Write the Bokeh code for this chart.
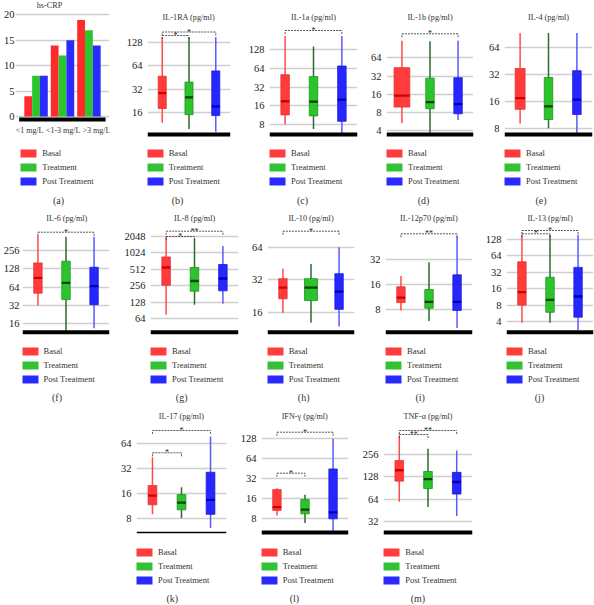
from bokeh.plotting import figure
from bokeh.models import (Range1d, FixedTicker, Label, Legend, LegendItem,
                          PrintfTickFormatter, Span, ColumnDataSource, Spacer)
from bokeh.layouts import row, column
from bokeh.transform import dodge
from bokeh.embed import file_html
from bokeh.resources import INLINE

# ---------------- data ----------------
groups = ["Basal", "Treatment", "Post Treatment"]

crp_levels = ["<1 mg/L", "<1-3 mg/L", ">3 mg/L"]
crp_basal = [4, 14, 19]
crp_treatment = [8, 12, 17]
crp_post = [8, 15, 14]
crp_ticks = [0, 5, 10, 15, 20]

# box statistics, order: Basal, Treatment, Post Treatment
il1ra_low = [11.8, 9.8, 9.0]
il1ra_q1 = [18, 15, 14.6]
il1ra_med = [28.4, 25, 19.2]
il1ra_q3 = [47, 39.5, 55]
il1ra_high = [150, 150, 150]
il1ra_ticks = [16, 32, 64, 128]
il1ra_sig = [("Basal", "Treatment", "*"), ("Basal", "Post Treatment", "*")]

il1a_low = [8, 6.8, 5.7]
il1a_q1 = [11.4, 11, 9]
il1a_med = [18.9, 18.7, 20]
il1a_q3 = [50.5, 47, 69.5]
il1a_high = [210, 143, 210]
il1a_ticks = [8, 16, 32, 64, 128]
il1a_sig = [("Basal", "Post Treatment", "*")]

il1b_low = [5.3, 3.5, 6.0]
il1b_q1 = [9.8, 9.2, 7.6]
il1b_med = [15.2, 11.8, 11]
il1b_q3 = [44, 29.5, 30]
il1b_high = [123, 120, 123]
il1b_ticks = [4, 8, 16, 32, 64]
il1b_sig = [("Basal", "Post Treatment", "*")]

il4_low = [9, 8, 6.8]
il4_q1 = [13, 10, 11.4]
il4_med = [17.3, 14, 16.7]
il4_q3 = [37, 29.4, 35]
il4_high = [92, 92, 92]
il4_ticks = [8, 16, 32, 64]
il4_sig = []

il6_low = [32, 11.6, 13.5]
il6_q1 = [51, 40, 33]
il6_med = [91, 75, 66.5]
il6_q3 = [160, 171, 136]
il6_high = [451, 430, 430]
il6_ticks = [16, 32, 64, 128, 256]
il6_sig = [("Basal", "Post Treatment", "*")]

il8_low = [76, 116, 121]
il8_q1 = [263, 205, 208]
il8_med = [556, 315, 350]
il8_q3 = [866, 556, 630]
il8_high = [2048, 1860, 1370]
il8_ticks = [64, 128, 256, 512, 1024, 2048]
il8_sig = [("Basal", "Treatment", "*"), ("Basal", "Post Treatment", "**")]

il10_low = [15.7, 12.8, 11.8]
il10_q1 = [21.3, 20.5, 17]
il10_med = [27, 27, 24.8]
il10_q3 = [32.7, 32.7, 36.4]
il10_high = [40.5, 44.7, 64]
il10_ticks = [16, 32, 64]
il10_sig = [("Basal", "Post Treatment", "*")]

il12_low = [7.8, 5.8, 4.8]
il12_q1 = [9.7, 8.3, 7.8]
il12_med = [11.1, 9.9, 9.9]
il12_q3 = [15, 13.9, 20.9]
il12_high = [20.2, 29.7, 61]
il12_ticks = [8, 16, 32]
il12_sig = [("Basal", "Post Treatment", "**")]

il13_low = [3.8, 3.8, 2.8]
il13_q1 = [8, 5.9, 4.8]
il13_med = [13.9, 10, 11.5]
il13_q3 = [50, 26, 39.4]
il13_high = [156, 156, 156]
il13_ticks = [4, 8, 16, 32, 64, 128]
il13_sig = [("Basal", "Treatment", "*"), ("Basal", "Post Treatment", "*")]

il17_low = [8.9, 8, 6.1]
il17_q1 = [11.6, 10.1, 8.9]
il17_med = [15, 12.3, 13.3]
il17_q3 = [19.8, 15.4, 28.6]
il17_high = [43.5, 18.9, 77]
il17_ticks = [8, 16, 32, 64]
il17_sig = [("Basal", "Post Treatment", "*"), ("Basal", "Treatment", "*")]

ifng_low = [9, 6.9, 4.9]
ifng_q1 = [10.7, 9.5, 8]
ifng_med = [12, 11, 10]
ifng_q3 = [22, 15.6, 45]
ifng_high = [23, 18.4, 128]
ifng_ticks = [8, 16, 32, 64, 128]
ifng_sig = [("Basal", "Post Treatment", "*"), ("Basal", "Treatment", "*")]

tnfa_low = [59, 50, 38]
tnfa_q1 = [112, 89, 75]
tnfa_med = [157, 119, 109]
tnfa_q3 = [212, 151, 147]
tnfa_high = [462, 305, 290]
tnfa_ticks = [32, 64, 128, 256]
tnfa_sig = [("Basal", "Post Treatment", "**"), ("Basal", "Treatment", "**")]

# ---------------- styling / layout ----------------
S = 1.0
FONT = "Liberation Serif"
TXT = "#333333"


def px(v):
    return v * S


ROW_H = [208, 198, 199]
ROW_BASE = [134, 123.7, 126]
ROW_TITLE = [17.3, 9.7, 10]
ROW_LEGEND = [153, 142.7, 146.3]
ROW_CAPTION = [200, 188.7, 192.3]

FILL = ["#ff3b3b", "#2bc42b", "#2626ff"]
EDGE = ["#e83232", "#1f8f1f", "#1c1cd6"]
WHISK = ["#ff4a4a", "#2f6b2f", "#5a5aff"]
MED = ["#d00000", "#0d420d", "#0000b0"]
LEG = ["#ff3b3b", "#33c233", "#2a2aff"]
BAR = ["#ff2b2b", "#2cc52c", "#2b2bff"]

LAYOUT = {
    "a": dict(row=0, x0=0, x1=118, fl=13, fr=109, lab=3, tx=47, ty=4.8, sw=18.3,
              xr=(0.222, 3.778), base=119, base_x=(0.36, 3.63), so=1),
    "b": dict(row=0, x0=118, x1=237, fl=146.7, fr=230, lab=124, ref=(128, 42), ppd=23.33,
              brk=[35, 31.5]),
    "c": dict(row=0, x0=237, x1=360, fl=269, fr=357, lab=247, ref=(128, 49), ppd=18.75,
              brk=[30]),
    "d": dict(row=0, x0=360, x1=480, fl=386, fr=473, lab=373, ref=(64, 57.3), ppd=18.2,
              brk=[33.3], bw=[0.56, 0.3, 0.3]),
    "e": dict(row=0, x0=480, x1=594, fl=504, fr=592, lab=489, ref=(64, 46.7), ppd=27,
              brk=[], bw=[0.35, 0.3, 0.3]),
    "f": dict(row=1, x0=0, x1=118, fl=19.5, fr=109, lab=0, ref=(256, 42), ppd=18.33,
              brk=[23.7], so=3),
    "g": dict(row=1, x0=118, x1=243, fl=150, fr=238.3, lab=124, ref=(2048, 28), ppd=16.47,
              brk=[28, 22.7]),
    "h": dict(row=1, x0=243, x1=362, fl=266.7, fr=354.3, lab=252, ref=(64, 38.7), ppd=32.5,
              brk=[22.7], bw=[0.3, 0.46, 0.3]),
    "i": dict(row=1, x0=362, x1=482, fl=385, fr=471.7, lab=367.7, ref=(32, 51), ppd=25,
              brk=[25.3]),
    "j": dict(row=1, x0=482, x1=594, fl=506, fr=593, lab=485, ref=(128, 31), ppd=16.4,
              brk=[25.3, 22]),
    "k": dict(row=2, x0=114, x1=235, fl=136, fr=225.7, lab=118, ref=(64, 36.7), ppd=25,
              brk=[24, 46.3], blw=1.6),
    "l": dict(row=2, x0=235, x1=358, fl=260.7, fr=347.7, lab=240, ref=(128, 32.3), ppd=20,
              brk=[25.7, 66.7]),
    "m": dict(row=2, x0=358, x1=480, fl=383.3, fr=471.7, lab=363, ref=(256, 48), ppd=22.33,
              brk=[24, 28]),
}


def make_fig(L, y_range, log):
    r = L["row"]
    left = round(px(L["x0"]))
    right = round(px(L["x1"]))
    bl = round(px(L["fl"] - L["x0"]))
    br = round(px(L["x1"] - L["fr"]))
    kw = dict(y_axis_type="log") if log else {}
    p = figure(width=right - left, height=round(px(ROW_H[r])),
               x_range=Range1d(*L.get("xr", (0.45, 3.55))), y_range=y_range,
               x_axis_location=None, y_axis_location="left", title=None,
               toolbar_location=None, output_backend="svg",
               min_border_left=bl, min_border_right=br, min_border_top=0,
               min_border_bottom=0, outline_line_color=None,
               background_fill_color="white", border_fill_color="white", **kw)
    p.xgrid.visible = False
    p.ygrid.grid_line_color = "#cfcfcf"
    p.ygrid.grid_line_width = px(1.3)
    return p, left + bl


def style_axis(p, L, ticks):
    ax = p.yaxis[0]
    ax.ticker = FixedTicker(ticks=ticks)
    ax.formatter = PrintfTickFormatter(format="%d")
    ax.axis_line_color = None
    ax.major_tick_line_color = None
    ax.minor_tick_line_color = None
    ax.major_tick_out = 0
    ax.major_tick_in = 0
    ax.minor_tick_out = 0
    ax.minor_tick_in = 0
    ax.major_label_text_font = FONT
    ax.major_label_text_font_size = f"{px(10.5):.1f}px"
    ax.major_label_text_color = "#222222"
    ax.major_label_standoff = round(px(L.get("so", 5)))


def decorate(p, L, fl_s, title, letter, dummy_y):
    r = L["row"]
    Hs = round(px(ROW_H[r]))
    tx = L.get("tx", (L["fl"] + L["fr"]) / 2)
    ty = L.get("ty", ROW_TITLE[r])
    p.add_layout(Label(x=px(tx) - fl_s, y=Hs - px(ty), x_units="screen", y_units="screen",
                       text=title, text_align="center", text_baseline="middle",
                       text_font=FONT, text_font_size=f"{px(8.2):.1f}px", text_color=TXT))
    cx = (L["lab"] + L["fr"]) / 2
    p.add_layout(Label(x=px(cx) - fl_s, y=Hs - px(ROW_CAPTION[r]), x_units="screen",
                       y_units="screen", text=f"({letter})", text_align="center",
                       text_baseline="middle", text_font=FONT,
                       text_font_size=f"{px(10):.1f}px", text_color=TXT))
    # legend swatches: zero-height bars (nothing visible in the plot area)
    rs = [p.vbar(x=[2], bottom=[dummy_y], top=[dummy_y], width=0.1,
                 fill_color=c, line_color=None) for c in LEG]
    gw = round(px(20))
    gh = round(px(10))
    sp = round(px(3.5))
    leg_h = 3 * gh + 2 * sp
    top = px(ROW_LEGEND[r]) - gh / 2
    vy = Hs - (top + leg_h)
    sw = L.get("sw", L["fl"])
    vx = px(sw) - fl_s - 0.1 * gw
    legend = Legend(items=[LegendItem(label=g, renderers=[rr]) for g, rr in zip(groups, rs)],
                    location=(vx, vy), orientation="vertical", glyph_width=gw,
                    glyph_height=gh, label_height=gh, label_width=10, spacing=sp,
                    label_standoff=4, padding=0, margin=0, border_line_color=None,
                    background_fill_alpha=0, label_text_font=FONT,
                    label_text_font_size=f"{px(8.5):.1f}px", label_text_color=TXT)
    p.add_layout(legend)


def box_panel(key, title, low, q1, med, q3, high, ticks, sig):
    L = LAYOUT[key]
    r = L["row"]
    H = ROW_H[r]
    ref_val, ref_px = L["ref"]
    ppd = L["ppd"]

    def val(pp):
        return ref_val * 2 ** ((ref_px - pp) / ppd)

    p, fl_s = make_fig(L, Range1d(val(H), val(0)), True)
    style_axis(p, L, ticks)
    xs = [groups.index(g) + 1 for g in groups]
    widths = L.get("bw", [0.3, 0.3, 0.3])
    src = ColumnDataSource(dict(x=xs, low=low, q1=q1, med=med, q3=q3, high=high, w=widths,
                                fill=FILL, edge=EDGE, wh=WHISK, mc=MED))
    p.segment(x0="x", y0="low", x1="x", y1="high", line_color="wh", line_width=px(1.5),
              source=src)
    p.vbar(x="x", width="w", bottom="q1", top="q3", fill_color="fill", line_color="edge",
           line_width=px(0.8), source=src)
    p.rect(x="x", y="med", width="w", height=px(2.3), height_units="screen",
           fill_color="mc", line_color=None, source=src)
    for (ga, gb, mark), pb in zip(sig, L["brk"]):
        i = groups.index(ga) + 1
        j = groups.index(gb) + 1
        y = val(pb)
        yd = val(pb + 3.5)
        p.segment(x0=[i, i, j], y0=[y, yd, yd], x1=[j, i, j], y1=[y, y, y],
                  line_dash="2 1", line_color="#444444", line_width=px(0.9))
        p.add_layout(Label(x=(i + j) / 2, y=y, text=mark, text_align="center",
                           text_baseline="middle", text_font=FONT,
                           text_font_size=f"{px(8):.1f}px", text_color="#222222"))
    p.add_layout(Span(location=val(ROW_BASE[r]), dimension="width", line_color="black",
                      line_width=px(L.get("blw", 4))))
    decorate(p, L, fl_s, title, key, val(ROW_BASE[r]))
    return p


def crp_panel():
    L = LAYOUT["a"]
    H = ROW_H[0]
    zero_px, unit_px = 116, 5.08

    def val(pp):
        return (zero_px - pp) / unit_px

    p, fl_s = make_fig(L, Range1d(val(H), val(0)), False)
    style_axis(p, L, crp_ticks)
    xs = [i + 1 for i in range(len(crp_levels))]
    src = ColumnDataSource(dict(x=xs, basal=crp_basal, treatment=crp_treatment, post=crp_post))
    bw = 0.296
    for off, col, c in zip([-bw, 0, bw], ["basal", "treatment", "post"], BAR):
        p.vbar(x=dodge("x", off, range=p.x_range), top=col, bottom=0, width=bw,
               fill_color=c, line_color=None, source=src)
    bx0, bx1 = L["base_x"]
    yb = val(L["base"])
    p.segment(x0=[bx0], y0=[yb], x1=[bx1], y1=[yb], line_color="black",
              line_width=px(4), line_cap="butt")
    for x, lab, xo in zip(xs, crp_levels, [-6.5, 0.7, 7.5]):
        p.add_layout(Label(x=x, y=val(130), text=lab, text_align="center",
                           text_baseline="middle", x_offset=px(xo), text_font=FONT,
                           text_font_size=f"{px(8):.1f}px", text_color=TXT))
    decorate(p, L, fl_s, "hs-CRP", "a", 0)
    return p


pa = crp_panel()
pb = box_panel("b", "IL-1RA (pg/ml)", il1ra_low, il1ra_q1, il1ra_med, il1ra_q3, il1ra_high,
               il1ra_ticks, il1ra_sig)
pc = box_panel("c", "IL-1a (pg/ml)", il1a_low, il1a_q1, il1a_med, il1a_q3, il1a_high,
               il1a_ticks, il1a_sig)
pd_ = box_panel("d", "IL-1b (pg/ml)", il1b_low, il1b_q1, il1b_med, il1b_q3, il1b_high,
                il1b_ticks, il1b_sig)
pe = box_panel("e", "IL-4 (pg/ml)", il4_low, il4_q1, il4_med, il4_q3, il4_high,
               il4_ticks, il4_sig)
pf = box_panel("f", "IL-6 (pg/ml)", il6_low, il6_q1, il6_med, il6_q3, il6_high,
               il6_ticks, il6_sig)
pg = box_panel("g", "IL-8 (pg/ml)", il8_low, il8_q1, il8_med, il8_q3, il8_high,
               il8_ticks, il8_sig)
ph = box_panel("h", "IL-10 (pg/ml)", il10_low, il10_q1, il10_med, il10_q3, il10_high,
               il10_ticks, il10_sig)
pi = box_panel("i", "IL-12p70 (pg/ml)", il12_low, il12_q1, il12_med, il12_q3, il12_high,
               il12_ticks, il12_sig)
pj = box_panel("j", "IL-13 (pg/ml)", il13_low, il13_q1, il13_med, il13_q3, il13_high,
               il13_ticks, il13_sig)
pk = box_panel("k", "IL-17 (pg/ml)", il17_low, il17_q1, il17_med, il17_q3, il17_high,
               il17_ticks, il17_sig)
pl = box_panel("l", "IFN-γ (pg/ml)", ifng_low, ifng_q1, ifng_med, ifng_q3, ifng_high,
               ifng_ticks, ifng_sig)
pm = box_panel("m", "TNF-α (pg/ml)", tnfa_low, tnfa_q1, tnfa_med, tnfa_q3, tnfa_high,
               tnfa_ticks, tnfa_sig)

spacer = Spacer(width=round(px(114)), height=round(px(ROW_H[2])))
layout = column(row(pa, pb, pc, pd_, pe), row(pf, pg, ph, pi, pj),
                row(spacer, pk, pl, pm))

open("out.html", "w").write(file_html(layout, INLINE))
